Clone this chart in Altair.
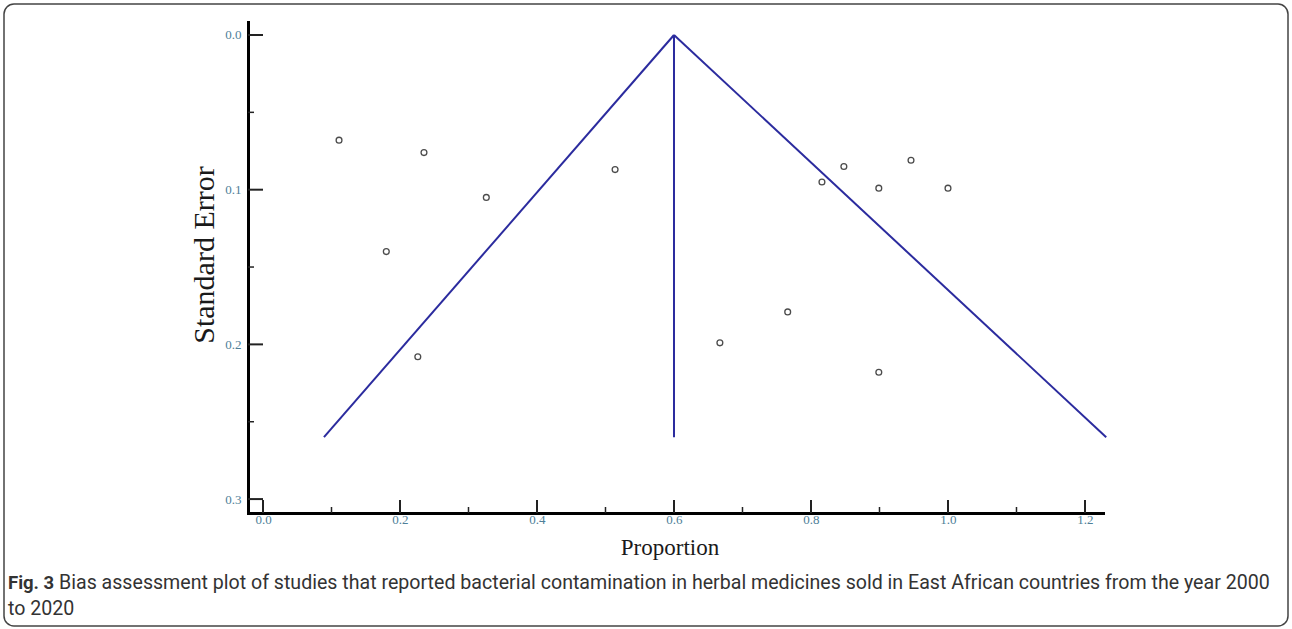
import altair as alt
import pandas as pd

# Study-level estimates: proportion (x) and its standard error (y)
study_prop = [0.111, 0.235, 0.326, 0.180, 0.226, 0.514,
              0.848, 0.816, 0.899, 0.946, 1.000, 0.766, 0.667, 0.899]
study_se = [0.068, 0.076, 0.105, 0.140, 0.208, 0.087,
            0.085, 0.095, 0.099, 0.081, 0.099, 0.179, 0.199, 0.218]

# Funnel: pooled proportion and pseudo-confidence limits at the largest SE
pooled = 0.6
funnel_low = 0.089
funnel_high = 1.231
funnel_se = 0.26

# Axis ticks
x_major = [0.0, 0.2, 0.4, 0.6, 0.8, 1.0, 1.2]
x_minor = [0.1, 0.3, 0.5, 0.7, 0.9, 1.1]
y_major = [0.0, 0.1, 0.2, 0.3]
y_minor = [0.05, 0.15, 0.25]

caption_bold = "Fig. 3"
caption_line1 = ("Bias assessment plot of studies that reported bacterial contamination "
                 "in herbal medicines sold in East African countries from the year 2000")
caption_line2 = "to 2020"

W, H = 855, 491
SERIF = "Liberation Serif, Times New Roman, serif"
CAP_FONT = "Roboto, sans-serif"
LABEL_COLOR = "#4f7f99"
FUNNEL_COLOR = "#2b2b9e"

xs = alt.Scale(domain=[-0.0219, 1.2263], zero=False, nice=False)
ys = alt.Scale(domain=[-0.0084, 0.309], zero=False, nice=False, reverse=True)

# One shared axis definition per channel, used by every layer so they merge cleanly
xaxis = alt.Axis(
    values=x_major, format=".1f", ticks=False, grid=False, title=None,
    domainColor="black", domainWidth=3, domainCap="square",
    labelFont=SERIF, labelFontSize=13, labelColor=LABEL_COLOR, labelPadding=0)
yaxis = alt.Axis(
    values=y_major, format=".1f", ticks=False, grid=False, title=None,
    domainColor="black", domainWidth=3, domainCap="square",
    labelFont=SERIF, labelFontSize=13, labelColor=LABEL_COLOR, labelPadding=7)

points = pd.DataFrame({"prop": study_prop, "se": study_se})
segments = pd.DataFrame({
    "x": [funnel_low, pooled, pooled],
    "y": [funnel_se, 0.0, 0.0],
    "x2": [pooled, funnel_high, pooled],
    "y2": [0.0, funnel_se, funnel_se],
})
one = alt.Data(values=[{}])

pts = alt.Chart(points).mark_point(
    shape="circle", size=34, filled=False, color="black", strokeWidth=1.3
).encode(
    x=alt.X("prop:Q", scale=xs, axis=xaxis),
    y=alt.Y("se:Q", scale=ys, axis=yaxis),
)

funnel = alt.Chart(segments).mark_rule(color=FUNNEL_COLOR, strokeWidth=2).encode(
    x=alt.X("x:Q", scale=xs, axis=xaxis),
    y=alt.Y("y:Q", scale=ys, axis=yaxis),
    x2="x2:Q",
    y2="y2:Q",
)

# Inward tick marks
ymaj = alt.Chart(pd.DataFrame({"v": y_major})).mark_rule(color="#222", strokeWidth=2).encode(
    y=alt.Y("v:Q", scale=ys, axis=yaxis), x=alt.value(0), x2=alt.value(15))
ymin = alt.Chart(pd.DataFrame({"v": y_minor})).mark_rule(color="#222", strokeWidth=1.5).encode(
    y=alt.Y("v:Q", scale=ys, axis=yaxis), x=alt.value(0), x2=alt.value(6))
xmaj = alt.Chart(pd.DataFrame({"v": x_major})).mark_rule(color="#222", strokeWidth=2).encode(
    x=alt.X("v:Q", scale=xs, axis=xaxis), y=alt.value(H), y2=alt.value(H - 13))
xmin = alt.Chart(pd.DataFrame({"v": x_minor})).mark_rule(color="#222", strokeWidth=1.5).encode(
    x=alt.X("v:Q", scale=xs, axis=xaxis), y=alt.value(H), y2=alt.value(H - 6))

ytitle = alt.Chart(one).mark_text(
    text="Standard Error", angle=270, font=SERIF, fontSize=30, color="#1a1a1a",
    align="center", baseline="middle"
).encode(x=alt.value(-43), y=alt.value(233))

xtitle = alt.Chart(one).mark_text(
    text="Proportion", font=SERIF, fontSize=23, color="#1a1a1a",
    align="center", baseline="middle"
).encode(x=alt.value(422), y=alt.value(526))

cap_b = alt.Chart(one).mark_text(
    text=caption_bold, font=CAP_FONT, fontSize=18.5, fontWeight="bold", color="#333",
    align="left", baseline="middle"
).encode(x=alt.value(-240), y=alt.value(561))
cap_1 = alt.Chart(one).mark_text(
    text=caption_line1, font=CAP_FONT, fontSize=19.6, color="#333",
    align="left", baseline="middle"
).encode(x=alt.value(-189), y=alt.value(561))
cap_2 = alt.Chart(one).mark_text(
    text=caption_line2, font=CAP_FONT, fontSize=19.6, color="#333",
    align="left", baseline="middle"
).encode(x=alt.value(-240), y=alt.value(587))

frame = alt.Chart(one).mark_rect(
    cornerRadius=10, fillOpacity=0, stroke="#444", strokeWidth=1.5
).encode(x=alt.value(-244), x2=alt.value(1040), y=alt.value(-18), y2=alt.value(604))

chart = alt.layer(
    frame, funnel, ymaj, ymin, xmaj, xmin, pts, ytitle, xtitle, cap_b, cap_1, cap_2
).properties(
    width=W, height=H,
    autosize=alt.AutoSizeParams(type="none"),
    padding={"left": 248, "top": 22, "right": 189, "bottom": 116},
    background="white",
).configure_view(
    stroke=None
).configure_axis(
    labelFont=SERIF, labelFontSize=13, labelColor=LABEL_COLOR
)

chart.save("out.html", embed_options={"renderer": "svg", "actions": False})
